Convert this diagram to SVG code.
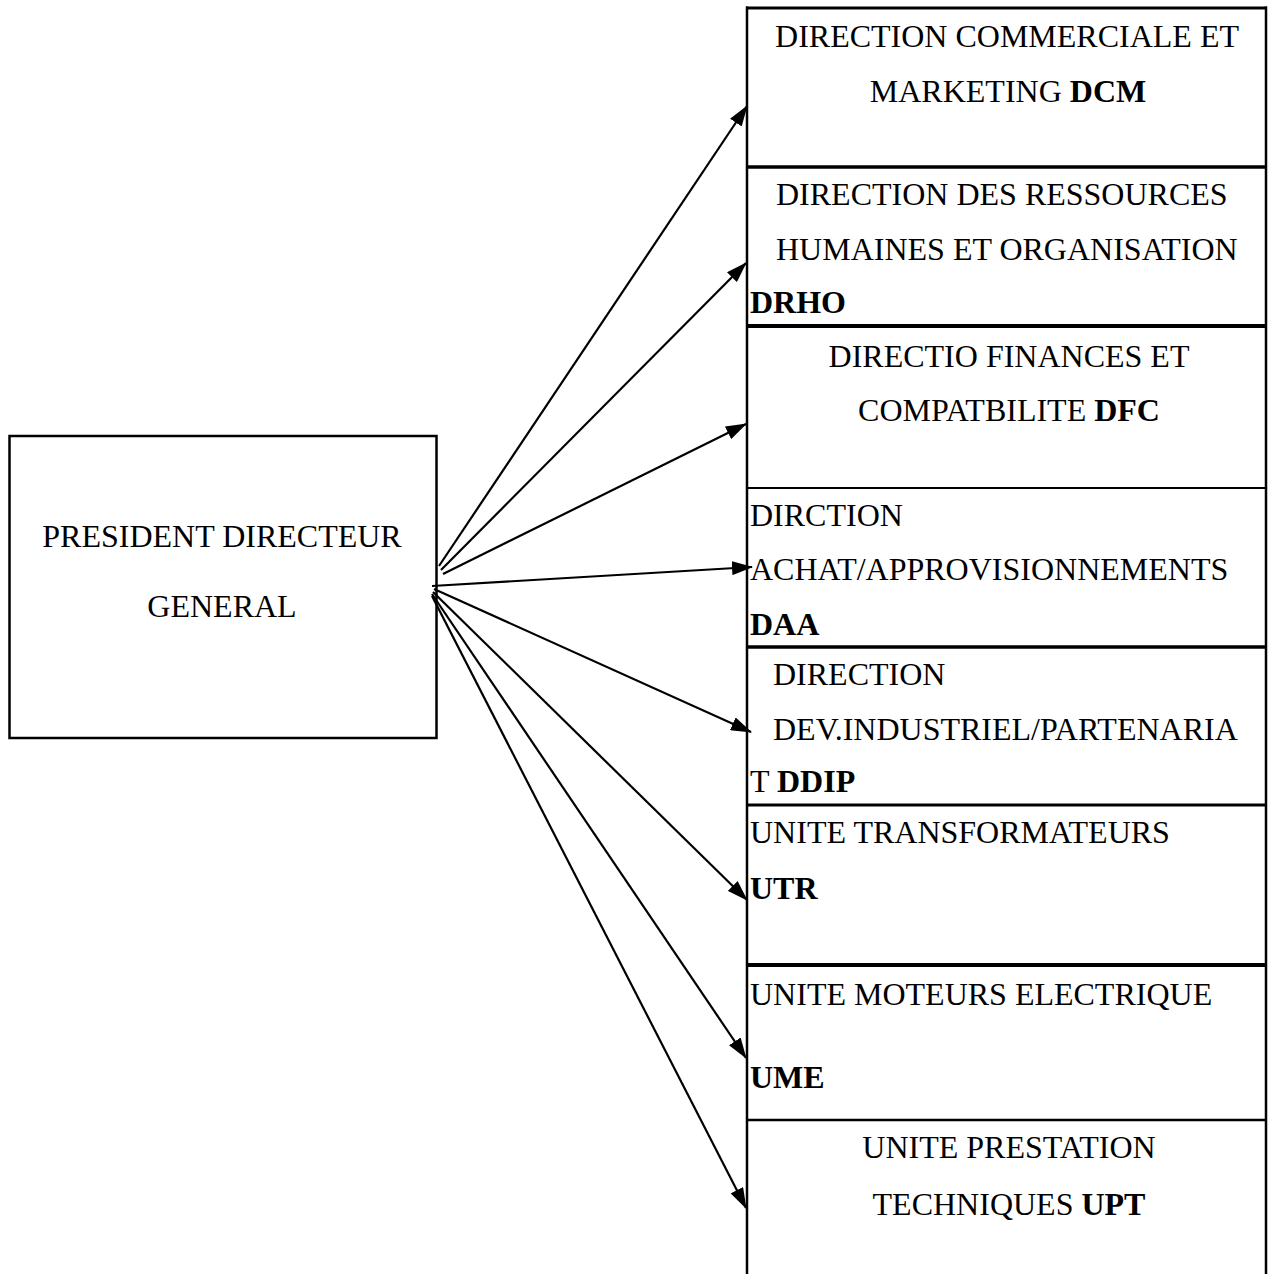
<svg xmlns="http://www.w3.org/2000/svg" width="1271" height="1274" viewBox="0 0 1271 1274">
<defs>
<style>
text{font-family:"Liberation Serif","Times New Roman",serif;font-size:32px;fill:#000}
.c{text-anchor:middle}
.b{font-weight:bold}
.ln{stroke:#000;fill:none}
.cell{fill:none;stroke:none}
.conn{stroke:#000;stroke-width:2.2;fill:none;marker-end:url(#ah)}
</style>
<marker id="ah" markerUnits="userSpaceOnUse" markerWidth="21" markerHeight="14" refX="20" refY="7" orient="auto" viewBox="0 0 21 14">
<path d="M0,0 L21,7 L0,14 z" fill="#000"/>
</marker>
</defs>
<rect width="1271" height="1274" fill="#fff"/>

<g id="pdg">
<rect x="9.5" y="436" width="427" height="302" fill="#fff" stroke="#000" stroke-width="2.5"/>
<text class="c" x="222" y="547">PRESIDENT DIRECTEUR</text>
<text class="c" x="222" y="617">GENERAL</text>
</g>

<g id="frame">
<line class="ln" x1="746" y1="8" x2="1267" y2="8" stroke-width="3"/>
<line class="ln" x1="747" y1="6.5" x2="747" y2="1274" stroke-width="2.5"/>
<line class="ln" x1="1266" y1="6.5" x2="1266" y2="1274" stroke-width="2.5"/>
<line class="ln" x1="746" y1="167" x2="1267" y2="167" stroke-width="3.5"/>
<line class="ln" x1="746" y1="326" x2="1267" y2="326" stroke-width="4"/>
<line class="ln" x1="746" y1="488" x2="1267" y2="488" stroke-width="2"/>
<line class="ln" x1="746" y1="647" x2="1267" y2="647" stroke-width="3.5"/>
<line class="ln" x1="746" y1="805" x2="1267" y2="805" stroke-width="3"/>
<line class="ln" x1="746" y1="965" x2="1267" y2="965" stroke-width="4"/>
<line class="ln" x1="746" y1="1120" x2="1267" y2="1120" stroke-width="2.5"/>
</g>

<g id="dcm">
<rect class="cell" x="747" y="8" width="519" height="159"/>
<text class="c" x="1007" y="47">DIRECTION COMMERCIALE ET</text>
<text class="c" x="1008" y="102">MARKETING <tspan class="b">DCM</tspan></text>
</g>

<g id="drho">
<rect class="cell" x="747" y="167" width="519" height="159"/>
<text x="776" y="205">DIRECTION DES RESSOURCES</text>
<text x="776" y="260">HUMAINES ET ORGANISATION</text>
<text class="b" x="750" y="313">DRHO</text>
</g>

<g id="dfc">
<rect class="cell" x="747" y="326" width="519" height="162"/>
<text class="c" x="1009" y="367">DIRECTIO FINANCES ET</text>
<text class="c" x="1009" y="421">COMPATBILITE <tspan class="b">DFC</tspan></text>
</g>

<g id="daa">
<rect class="cell" x="747" y="488" width="519" height="159"/>
<text x="750" y="526">DIRCTION</text>
<text x="750" y="580">ACHAT/APPROVISIONNEMENTS</text>
<text class="b" x="750" y="635">DAA</text>
</g>

<g id="ddip">
<rect class="cell" x="747" y="647" width="519" height="158"/>
<text x="773" y="685">DIRECTION</text>
<text x="773" y="740">DEV.INDUSTRIEL/PARTENARIA</text>
<text x="750" y="792">T <tspan class="b">DDIP</tspan></text>
</g>

<g id="utr">
<rect class="cell" x="747" y="805" width="519" height="160"/>
<text x="750" y="843">UNITE TRANSFORMATEURS</text>
<text class="b" x="750" y="899">UTR</text>
</g>

<g id="ume">
<rect class="cell" x="747" y="965" width="519" height="155"/>
<text x="750" y="1005">UNITE MOTEURS ELECTRIQUE</text>
<text class="b" x="750" y="1088">UME</text>
</g>

<g id="upt">
<rect class="cell" x="747" y="1120" width="519" height="154"/>
<text class="c" x="1009" y="1158">UNITE PRESTATION</text>
<text class="c" x="1009" y="1215">TECHNIQUES <tspan class="b">UPT</tspan></text>
</g>

<g id="connectors">
<line class="conn" x1="439" y1="566" x2="747" y2="106"/>
<line class="conn" x1="441" y1="570" x2="746" y2="263"/>
<line class="conn" x1="443" y1="574" x2="746" y2="424"/>
<line class="conn" x1="432" y1="586" x2="752" y2="567"/>
<line class="conn" x1="434" y1="589" x2="751" y2="732"/>
<line class="conn" x1="433" y1="592" x2="747" y2="900"/>
<line class="conn" x1="432" y1="594" x2="746" y2="1058"/>
<line class="conn" x1="432" y1="596" x2="746" y2="1208"/>
</g>
</svg>
